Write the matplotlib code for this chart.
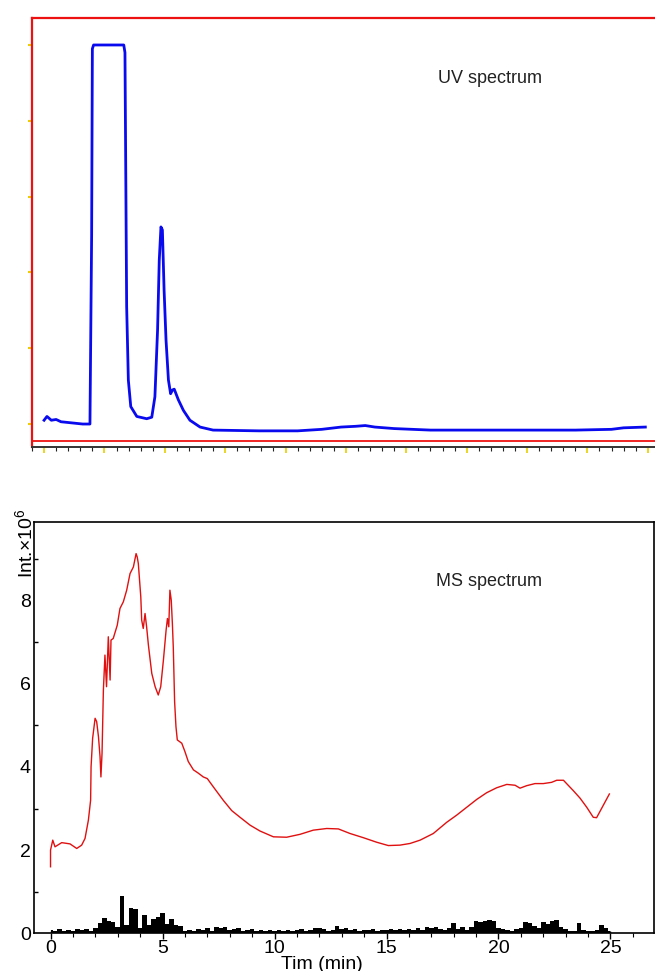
"""
UV chromatogram (top) and MS total-ion trace (bottom), shared 0-25 min run.
"""

import matplotlib
matplotlib.use("Agg")
import matplotlib.pyplot as plt
from matplotlib.ticker import MultipleLocator

plt.rcParams["font.family"] = ["Liberation Sans", "DejaVu Sans"]
plt.rcParams["mathtext.fontset"] = "custom"
plt.rcParams["mathtext.rm"] = "Liberation Sans"

# ── UV trace (arbitrary absorbance units) ─────────────────────────
uv_time = [0.0, 0.12, 0.3, 0.5, 0.7, 1.0, 1.3, 1.6, 1.9, 1.97, 2.0, 2.05,
           3.3, 3.35, 3.42, 3.49, 3.59, 3.84, 4.25, 4.46, 4.59, 4.7, 4.77,
           4.84, 4.9, 4.97, 5.05, 5.15, 5.24, 5.32, 5.39, 5.56, 5.77, 6.04,
           6.46, 7.0, 8.9, 10.5, 11.5, 12.3, 12.9, 13.3, 13.7, 14.5, 16.0,
           18.0, 20.0, 22.0, 23.5, 24.0, 24.9]
uv_abs = [0.05, 0.1, 0.05, 0.06, 0.03, 0.02, 0.01, 0.0, 0.0, 2.5, 4.95, 5.0,
          5.0, 4.9, 1.55, 0.58, 0.23, 0.1, 0.07, 0.09, 0.36, 1.24, 2.16,
          2.6, 2.56, 1.77, 1.11, 0.58, 0.4, 0.45, 0.46, 0.32, 0.18, 0.05,
          -0.04, -0.08, -0.09, -0.09, -0.07, -0.04, -0.03, -0.02, -0.04, -0.06, -0.08,
          -0.08, -0.08, -0.08, -0.07, -0.05, -0.04]
uv_ref_level = -0.22

# ── MS trace (intensity x 1e6) ────────────────────────────────────
ms_time = [0.0, 0.0, 0.1, 0.2, 0.5, 0.87, 1.17, 1.39, 1.54, 1.69, 1.79, 1.81,
           1.88, 1.99, 2.06, 2.14, 2.21, 2.25, 2.3, 2.36, 2.43, 2.5, 2.58,
           2.66, 2.7, 2.8, 2.98, 3.1, 3.25, 3.4, 3.55, 3.7, 3.82, 3.87, 3.92,
           4.03, 4.07, 4.14, 4.22, 4.29, 4.37, 4.52, 4.67, 4.81, 4.92, 5.04,
           5.16, 5.22, 5.28, 5.33, 5.39, 5.44, 5.48, 5.54, 5.6, 5.66, 5.86,
           6.0, 6.15, 6.38, 6.6, 6.82, 7.0, 7.27, 7.71, 8.09, 8.46, 8.91, 9.35,
           9.95, 10.54, 11.14, 11.73, 12.33, 12.85, 13.37, 13.96, 14.56, 15.08,
           15.6, 16.05, 16.5, 17.09, 17.69, 18.13, 18.58, 19.03, 19.47, 19.92,
           20.37, 20.74, 20.96, 21.26, 21.63, 22.0, 22.37, 22.6, 22.9, 23.04,
           23.34, 23.64, 23.94, 24.23, 24.38, 24.6, 24.95]
ms_int = [1.6, 2.0, 2.24, 2.08, 2.18, 2.15, 2.04, 2.12, 2.28, 2.72, 3.2, 4.0,
          4.69, 5.17, 5.09, 4.73, 4.25, 3.76, 4.33, 5.85, 6.69, 5.93, 7.13,
          6.09, 7.05, 7.09, 7.41, 7.81, 7.97, 8.25, 8.65, 8.81, 9.13, 9.05, 8.89,
          8.09, 7.53, 7.33, 7.69, 7.37, 6.93, 6.25, 5.93, 5.73, 5.93, 6.57,
          7.29, 7.57, 7.37, 8.25, 8.01, 7.45, 6.89, 5.57, 4.97, 4.65, 4.57,
          4.37, 4.13, 3.93, 3.85, 3.76, 3.72, 3.52, 3.2, 2.95, 2.79, 2.6, 2.46,
          2.32, 2.31, 2.38, 2.48, 2.52, 2.51, 2.4, 2.3, 2.19, 2.11,
          2.12, 2.16, 2.24, 2.4, 2.67, 2.84, 3.03, 3.22, 3.38, 3.5,
          3.58, 3.56, 3.49, 3.55, 3.6, 3.6, 3.63, 3.68, 3.68, 3.6,
          3.43, 3.25, 3.03, 2.79, 2.78, 3.0, 3.35]

# background / blank channel, sampled every 0.2 min
noise_time = [round(0.2 * i, 1) for i in range(126)]
noise_int = [0.08, 0.05, 0.1, 0.06, 0.09, 0.05, 0.1, 0.07, 0.1, 0.06,
             0.12, 0.25, 0.36, 0.3, 0.28, 0.15, 0.9, 0.2, 0.6, 0.58,
             0.12, 0.44, 0.2, 0.34, 0.38, 0.48, 0.22, 0.34, 0.2, 0.18,
             0.06, 0.08, 0.05, 0.1, 0.07, 0.12, 0.05, 0.14, 0.12, 0.15,
             0.08, 0.1, 0.12, 0.05, 0.08, 0.1, 0.06, 0.09, 0.05, 0.08,
             0.06, 0.09, 0.05, 0.08, 0.06, 0.07, 0.1, 0.06, 0.09, 0.12,
             0.12, 0.1, 0.06, 0.08, 0.18, 0.1, 0.12, 0.08, 0.11, 0.06,
             0.08, 0.07, 0.1, 0.06, 0.09, 0.07, 0.1, 0.08, 0.11, 0.07,
             0.1, 0.09, 0.12, 0.08, 0.14, 0.12, 0.14, 0.1, 0.08, 0.12,
             0.24, 0.1, 0.14, 0.08, 0.16, 0.3, 0.28, 0.3, 0.32, 0.3,
             0.12, 0.1, 0.07, 0.06, 0.1, 0.12, 0.26, 0.24, 0.18, 0.12,
             0.28, 0.22, 0.3, 0.32, 0.14, 0.1, 0.05, 0.06, 0.24, 0.07,
             0.06, 0.05, 0.08, 0.2, 0.12, 0.05]

ms_ticks = [0, 5, 10, 15, 20, 25]
ms_yticks = [0, 2, 4, 6, 8]

W, H = 655, 971
fig = plt.figure(figsize=(W / 100, H / 100), dpi=100)

# ── UV panel ──────────────────────────────────────────────────────
ax_uv = fig.add_axes([32 / W, 1 - 447 / H, 1 - 32 / W, (447 - 18) / H])
ax_uv.plot(uv_time, uv_abs, color="#0a0aee", lw=2.0, solid_joinstyle="round")
ax_uv.axhline(uv_ref_level, color="#ee1111", lw=1.3)
ax_uv.set_xlim(-0.5, 25.3)
ax_uv.set_ylim(-0.303, 5.356)
for side in ("left", "top"):
    ax_uv.spines[side].set_color("#ee1111")
    ax_uv.spines[side].set_linewidth(1.6)
ax_uv.spines["right"].set_visible(False)
ax_uv.spines["bottom"].set_color("#333333")
ax_uv.spines["bottom"].set_linewidth(1.4)
ax_uv.xaxis.set_major_locator(MultipleLocator(2.5))
ax_uv.xaxis.set_minor_locator(MultipleLocator(0.5))
ax_uv.yaxis.set_major_locator(MultipleLocator(1))
ax_uv.tick_params(axis="x", which="major", length=4, width=1.2, color="#e6d000",
                  labelbottom=False)
ax_uv.tick_params(axis="x", which="minor", length=3, width=0.8, color="#222222")
ax_uv.tick_params(axis="y", which="major", length=3, width=1.5, color="#e6d000",
                  labelleft=False)
ax_uv.text(0.735, 0.86, "UV spectrum", transform=ax_uv.transAxes,
           fontsize=13, ha="center", va="center", color="#222222")

# ── MS panel ──────────────────────────────────────────────────────
ax_ms = fig.add_axes([33.5 / W, 1 - 933.3 / H, 620 / W, (933.3 - 522) / H])
ax_ms.fill_between(noise_time, 0, noise_int, step="mid", color="black", lw=0)
ax_ms.vlines(noise_time, 0, noise_int, color="black", lw=0.9)
ax_ms.plot([0, 25], [0.03, 0.03], color="black", lw=1.0)
ax_ms.plot(ms_time, ms_int, color="#e01010", lw=1.0)
ax_ms.set_xlim(-0.76, 26.92)
ax_ms.set_ylim(0, 9.89)
for sp in ax_ms.spines.values():
    sp.set_color("black")
    sp.set_linewidth(1.2)
ax_ms.set_xticks(ms_ticks)
ax_ms.set_yticks(ms_yticks)
ax_ms.xaxis.set_minor_locator(MultipleLocator(1))
ax_ms.yaxis.set_minor_locator(MultipleLocator(1))
ax_ms.tick_params(axis="x", which="major", direction="out", length=4, width=1.0,
                  labelsize=14, pad=0.5)
ax_ms.tick_params(axis="x", which="minor", direction="out", length=3, width=0.8)
ax_ms.tick_params(axis="y", which="major", length=0, labelsize=14, pad=2)
ax_ms.tick_params(axis="y", which="minor", direction="in", length=3, width=1.0)
ax_ms.text(0.735, 0.855, "MS spectrum", transform=ax_ms.transAxes,
           fontsize=13, ha="center", va="center", color="#222222")

fig.text(322 / W, 1 - 964 / H, "Tim (min)", fontsize=14, ha="center", va="center")
fig.text(26 / W, 1 - 578 / H, r"Int.×10$^{6}$", fontsize=14, rotation=90,
         ha="center", va="bottom")

fig.savefig("out.png", dpi=100)
plt.close(fig)
